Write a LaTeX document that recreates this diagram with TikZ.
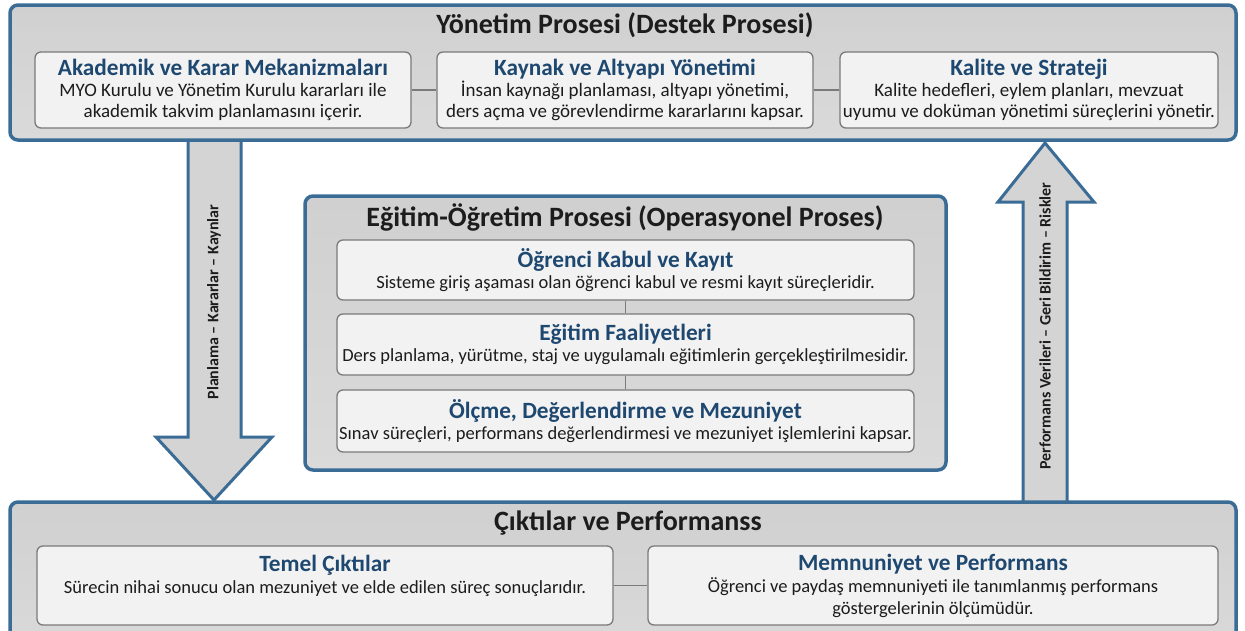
\documentclass[tikz,border=0pt]{standalone}
\usepackage{fontspec}
\setmainfont{Carlito}
\definecolor{frameblue}{HTML}{3A6C95}
\definecolor{headblue}{HTML}{1E4870}
\definecolor{boxtop}{HTML}{D0D0D0}
\definecolor{boxbot}{HTML}{DADADA}
\definecolor{inner}{HTML}{F2F2F2}
\definecolor{innerdraw}{HTML}{7A7A7A}
\definecolor{txt}{HTML}{1C1C1C}
\definecolor{arrowfill}{HTML}{D4D4D4}
\newcommand{\hd}[1]{{\color{headblue}\bfseries\fontsize{23.3}{24}\selectfont #1}}
\begin{document}
\begin{tikzpicture}[x=1pt,y=-1pt,
  outerbox/.style={draw=frameblue, line width=3.5pt, rounded corners=8pt, top color=boxtop, bottom color=boxbot, inner sep=0pt},
  innerbox/.style={draw=innerdraw, line width=1.3pt, rounded corners=6pt, fill=inner, align=center, inner sep=0pt, text=txt, font=\fontsize{18.5}{21}\selectfont},
  topbox/.style={innerbox, font=\fontsize{19}{21}\selectfont},
  title/.style={font=\bfseries\fontsize{28}{30}\selectfont, text=txt, inner sep=0pt},
  conn/.style={draw=innerdraw, line width=1.3pt},
  bigarrow/.style={draw=frameblue, line width=3pt, fill=arrowfill, line join=miter},
  arrowlabel/.style={font=\bfseries\fontsize{16}{18}\selectfont, text=txt, rotate=90, inner sep=0pt}
]
\useasboundingbox (0,0) rectangle (1245,630);
\fill[white] (0,0) rectangle (1245,630);

% big arrows (behind boxes)
\coordinate (la1) at (188,136);
\coordinate (la2) at (241,136);
\coordinate (ltip) at (214,500);
\draw[bigarrow] (la1) -- (188,437) -- (156,437) -- (ltip) -- (272,437) -- (241,437) -- (la2);
\node[arrowlabel] (llab) at (214,302) {Planlama – Kararlar – Kaynlar};

\coordinate (ra1) at (1023,506);
\coordinate (ra2) at (1067,506);
\coordinate (rtip) at (1045,143);
\draw[bigarrow] (ra1) -- (1023,202) -- (998,202) -- (rtip) -- (1094,202) -- (1067,202) -- (ra2);
\node[arrowlabel] (rlab) at (1045,326) {Performans Verileri – Geri Bildirim – Riskler};

% top process
\node[outerbox, minimum width=1226pt, minimum height=135pt] (top) at (623,72.5) {};
\node[title] (toptitle) at (625,25) {Yönetim Prosesi (Destek Prosesi)};
\node[topbox, minimum width=376pt, minimum height=76pt] (akd) at (223,90)
  {\hd{Akademik ve Karar Mekanizmaları}\\MYO Kurulu ve Yönetim Kurulu kararları ile\\akademik takvim planlamasını içerir.};
\node[topbox, minimum width=376pt, minimum height=76pt] (kay) at (625,90)
  {\hd{Kaynak ve Altyapı Yönetimi}\\İnsan kaynağı planlaması, altyapı yönetimi,\\ders açma ve görevlendirme kararlarını kapsar.};
\node[topbox, minimum width=378pt, minimum height=76pt] (kal) at (1029,90)
  {\hd{Kalite ve Strateji}\\Kalite hedefleri, eylem planları, mevzuat\\uyumu ve doküman yönetimi süreçlerini yönetir.};
\draw[conn] (akd.east) -- (kay.west);
\draw[conn] (kay.east) -- (kal.west);

% middle process
\node[outerbox, minimum width=641pt, minimum height=274pt] (mid) at (625.5,333) {};
\node[title] (midtitle) at (625,217) {Eğitim-Öğretim Prosesi (Operasyonel Proses)};
\node[innerbox, minimum width=577pt, minimum height=60pt] (ogr) at (625.5,270)
  {\hd{Öğrenci Kabul ve Kayıt}\\Sisteme giriş aşaması olan öğrenci kabul ve resmi kayıt süreçleridir.};
\node[innerbox, minimum width=577pt, minimum height=61pt] (egt) at (625.5,344.5)
  {\hd{Eğitim Faaliyetleri}\\Ders planlama, yürütme, staj ve uygulamalı eğitimlerin gerçekleştirilmesidir.};
\node[innerbox, minimum width=577pt, minimum height=62pt] (olc) at (625.5,421)
  {\hd{Ölçme, Değerlendirme ve Mezuniyet}\\Sınav süreçleri, performans değerlendirmesi ve mezuniyet işlemlerini kapsar.};
\draw[conn] (ogr.south) -- (egt.north);
\draw[conn] (egt.south) -- (olc.north);

% bottom process
\node[outerbox, minimum width=1226pt, minimum height=150pt] (bot) at (623,577) {};
\node[title] (bottitle) at (628,523) {Çıktılar ve Performanss};
\node[innerbox, minimum width=576pt, minimum height=79pt, font=\fontsize{18.5}{22}\selectfont] (tem) at (325,585.5)
  {\hd{Temel Çıktılar}\\Sürecin nihai sonucu olan mezuniyet ve elde edilen süreç sonuçlarıdır.\\\mbox{}};
\node[innerbox, minimum width=570pt, minimum height=79pt, font=\fontsize{18.5}{22}\selectfont] (mem) at (933,585.5)
  {\hd{Memnuniyet ve Performans}\\Öğrenci ve paydaş memnuniyeti ile tanımlanmış performans\\göstergelerinin ölçümüdür.};
\draw[conn] (tem.east) -- (mem.west);
\end{tikzpicture}
\end{document}
